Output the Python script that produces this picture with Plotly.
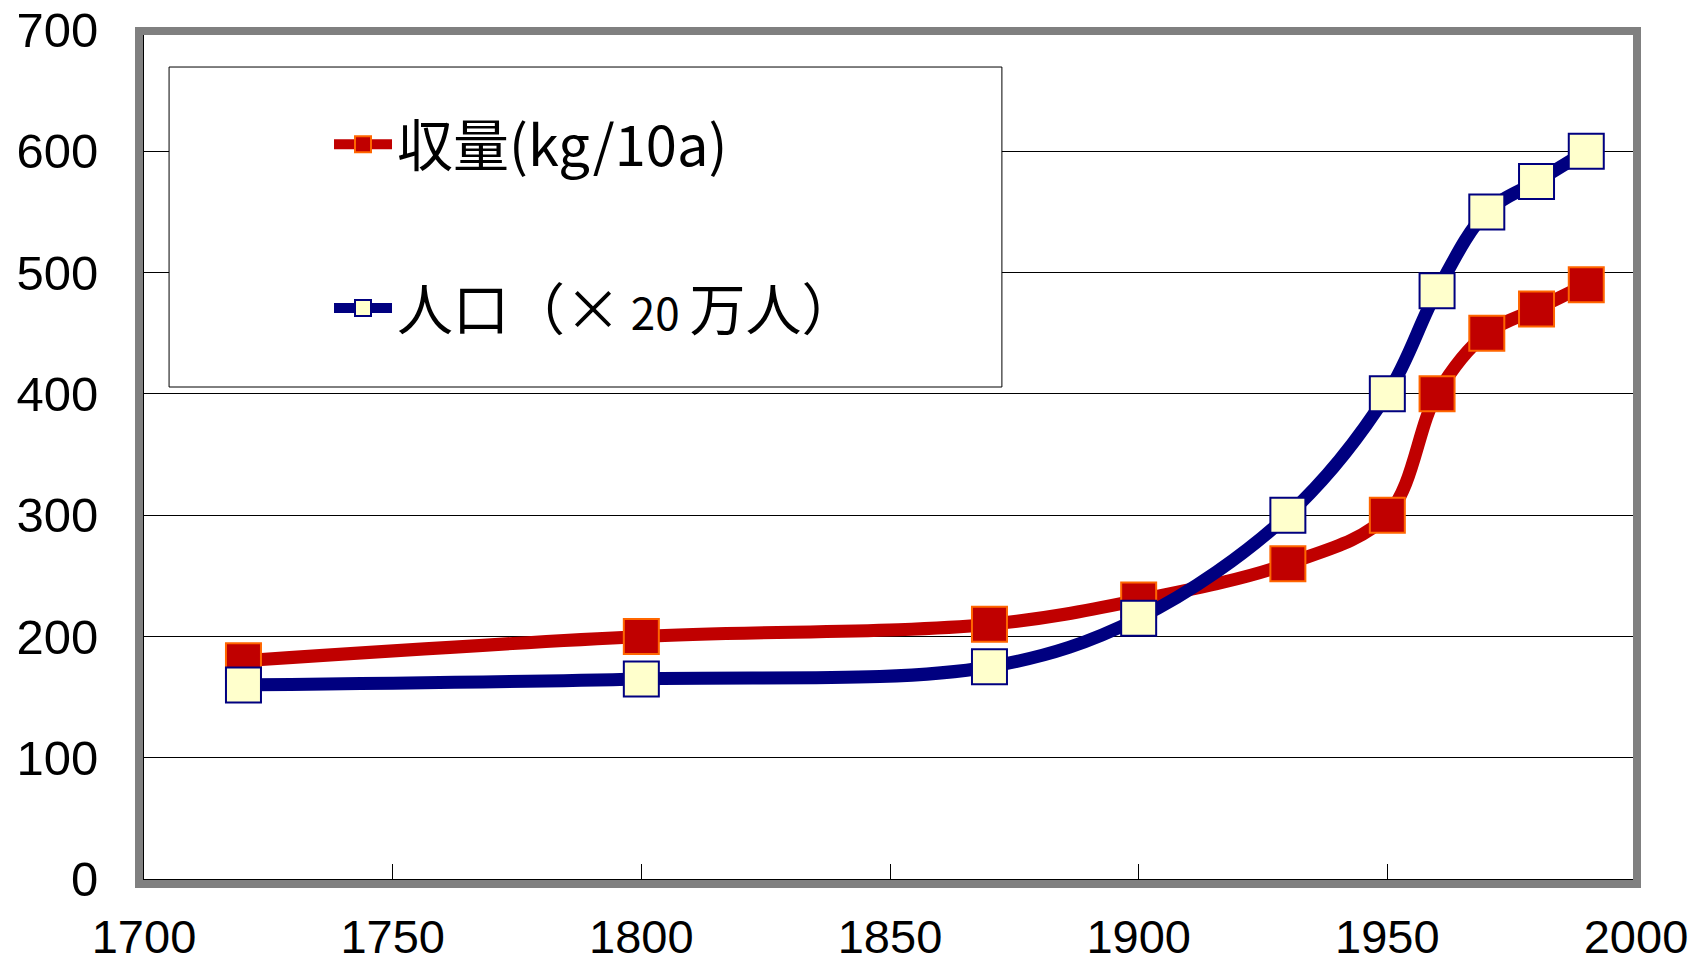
import plotly.graph_objects as go

# ---- data ----
years = [1720, 1800, 1870, 1900, 1930, 1950, 1960, 1970, 1980, 1990]
yield_kg = [180, 200, 210, 230, 260, 300, 400, 450, 470, 490]
population_20man = [160, 165, 175, 215, 300, 400, 485, 550, 575, 600]
x_ticks = [1700, 1750, 1800, 1850, 1900, 1950, 2000]
y_ticks = [0, 100, 200, 300, 400, 500, 600, 700]
name_yield = "収量(kg/10a)"
name_pop = "人口（×<span style='font-size:44px'> 20 </span>万人）"

X_TICK_FONT = dict(family="Liberation Sans, Arial, sans-serif", size=47, color="black")
Y_TICK_FONT = dict(family="Liberation Sans, Arial, sans-serif", size=49, color="black")
JP_FONT = dict(family="Noto Sans CJK JP, sans-serif", size=56, color="black")

fig = go.Figure()
fig.add_trace(go.Scatter(
    x=years, y=yield_kg, name=name_yield, legendgroup="a",
    mode="lines+markers",
    line=dict(color="#C00000", width=13, shape="spline", smoothing=1.0),
    marker=dict(symbol="square", size=35, color="#C00000",
                line=dict(color="#FF6600", width=2)),
))
fig.add_trace(go.Scatter(
    x=years, y=population_20man, name=name_pop, legendgroup="b",
    mode="lines+markers",
    line=dict(color="#000080", width=13, shape="spline", smoothing=1.0),
    marker=dict(symbol="square", size=35, color="#FFFFCC",
                line=dict(color="#000080", width=2)),
))

fig.update_layout(
    width=1704, height=965,
    margin=dict(l=144, r=68, t=30, b=86),
    paper_bgcolor="white", plot_bgcolor="white",
    showlegend=True,
    legend=dict(
        x=0.124, y=0.916, xanchor="left", yanchor="top",
        bgcolor="rgba(0,0,0,0)", borderwidth=0,
        font=JP_FONT, traceorder="grouped", tracegroupgap=88,
        itemwidth=58,
    ),
    xaxis=dict(
        range=[1700, 2000], tickvals=x_ticks, ticktext=[str(v) for v in x_ticks],
        ticks="inside", ticklen=15, tickwidth=1, tickcolor="black",
        showline=True, linecolor="black", linewidth=3,
        showgrid=False, zeroline=False, tickfont=X_TICK_FONT,
        ticklabelstandoff=15, automargin=False, ticklabeloverflow="allow",
    ),
    yaxis=dict(
        range=[0, 700], tickvals=y_ticks, ticktext=[str(v) for v in y_ticks],
        ticks="inside", ticklen=15, tickwidth=1, tickcolor="black",
        showline=True, linecolor="black", linewidth=3,
        showgrid=True, gridcolor="black", gridwidth=1,
        zeroline=False, tickfont=Y_TICK_FONT,
        ticklabelstandoff=33, automargin=False, ticklabeloverflow="allow",
    ),
    shapes=[
        # gray chart frame (drawn just outside the plotting area)
        dict(type="rect", xref="paper", yref="paper",
             x0=-0.00335, x1=1.00067, y0=-0.00589, y1=0.99882,
             line=dict(color="#808080", width=8), layer="above"),
        # legend box
        dict(type="rect", xref="paper", yref="paper", x0=0.0168, x1=0.575,
             y0=0.5795, y1=0.9564, fillcolor="white",
             line=dict(color="black", width=1), layer="above"),
    ],
)

# remove the default 8px body margin so the figure fills the window exactly
fig.write_html("out.html", config={"displayModeBar": False},
               post_script="document.body.style.margin='0px';")
